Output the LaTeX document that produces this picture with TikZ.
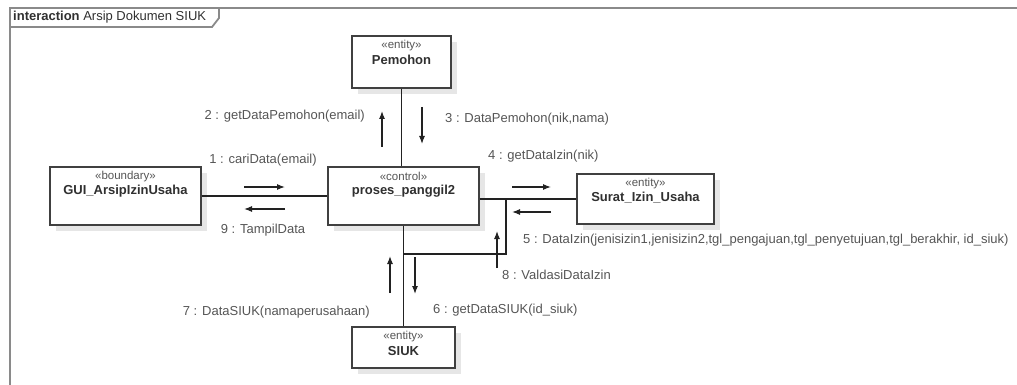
\documentclass[tikz,border=0pt]{standalone}
\usepackage{fontspec}
\setmainfont{Liberation Sans}
\usetikzlibrary{arrows.meta,calc,shadows}
\definecolor{framegray}{HTML}{8A8A8A}
\definecolor{boxgray}{HTML}{404040}
\definecolor{linkgray}{HTML}{222222}
\definecolor{txtgray}{HTML}{555555}
\definecolor{namegray}{HTML}{303030}
\definecolor{shadowgray}{HTML}{E6E6E6}

\begin{document}
\begin{tikzpicture}[x=1pt, y=-1pt,
		line cap=butt, line join=miter,
		frame/.style={draw=framegray, line width=1.8pt},
		obj/.style={draw=boxgray, fill=white, line width=1.4pt,
				general shadow={fill=shadowgray, shadow xshift=6pt, shadow yshift=-6pt}},
		stereo/.style={text=txtgray, font=\fontsize{11.5}{13}\selectfont, inner sep=0pt},
		objname/.style={text=namegray, font=\bfseries\fontsize{13}{15}\selectfont, inner sep=0pt},
		link/.style={draw=linkgray, line width=1.7pt},
		msg/.style={draw=linkgray, line width=1.1pt, -{Latex[length=8pt,width=6pt]}},
		lbl/.style={text=txtgray, font=\fontsize{13}{15}\selectfont, inner sep=0pt}]

	\useasboundingbox (0,0) rectangle (1017,385);

	% ---- cornice dell'interazione ----
	\draw[frame] (10,385) -- (10,8) -- (1017,8);
	\draw[frame] (10,27) -- (212,27) -- (219,18) -- (219,8);
	\node[lbl, text=namegray, anchor=west] (titolo) at (13,17)
		{\textbf{interaction} Arsip Dokumen SIUK};

	% ---- oggetti (macro: nome, centro, larghezza, altezza, stereotipo, etichetta) ----
	\newcommand{\objek}[6]{%
		\node[obj, minimum width=#3, minimum height=#4] (#1) at (#2) {};
		\node[stereo] (#1-st) at ($(#1.north)+(0,10)$) {«#5»};
		\node[objname] (#1-nm) at ($(#1.north)+(0,24.5)$) {#6};}

	\objek{pemohon}{401.5,62}{99pt}{52pt}{entity}{Pemohon}
	\objek{gui}{125.5,196}{151pt}{58pt}{boundary}{GUI\_ArsipIzinUsaha}
	\objek{ctrl}{403.5,196}{151pt}{58pt}{control}{proses\_panggil2}
	\objek{surat}{645.5,199}{137pt}{50pt}{entity}{Surat\_Izin\_Usaha}
	\objek{siuk}{403.5,347.5}{103pt}{41pt}{entity}{SIUK}

	% ---- collegamenti ----
	\draw[link] (gui) -- (ctrl);
	\draw[link] (pemohon.south) -- (pemohon.south |- ctrl.north);
	\draw[link] (ctrl) -- (siuk);
	\draw[link] (ctrl.east |- surat) -- (surat.west);
	\coordinate (anello) at (506,254);
	\draw[link] (anello |- surat) |- (ctrl.south |- anello);   % autoanello

	% ---- messaggi ----
	\draw[msg] (244,187) -- (285,187);
	\node[lbl] (m1) at (263,160) {1 : cariData(email)};
	\draw[msg] (285,209) -- (244,209);
	\node[lbl] (m9) at (263,230) {9 : TampilData};

	\draw[msg] (382,147) -- (382,111);
	\node[lbl, anchor=east] (m2) at (365,116) {2 : getDataPemohon(email)};
	\draw[msg] (422,107) -- (422,144);
	\node[lbl, anchor=west] (m3) at (445,119) {3 : DataPemohon(nik,nama)};

	\draw[msg] (512,187) -- (551,187);
	\node[lbl, anchor=west] (m4) at (488,156) {4 : getDataIzin(nik)};
	\draw[msg] (551,212) -- (512,212);
	\node[lbl, anchor=west] (m5) at (523,240)
		{5 : DataIzin(jenisizin1,jenisizin2,tgl\_pengajuan,tgl\_penyetujuan,tgl\_berakhir, id\_siuk)};

	\draw[msg] (497,268) -- (497,231);
	\node[lbl, anchor=west] (m8) at (502,275) {8 : ValdasiDataIzin};

	\draw[msg] (390,293) -- (390,256);
	\node[lbl, anchor=east] (m7) at (370,312) {7 : DataSIUK(namaperusahaan)};
	\draw[msg] (415,257) -- (415,294);
	\node[lbl, anchor=west] (m6) at (433,310) {6 : getDataSIUK(id\_siuk)};

\end{tikzpicture}
\end{document}
